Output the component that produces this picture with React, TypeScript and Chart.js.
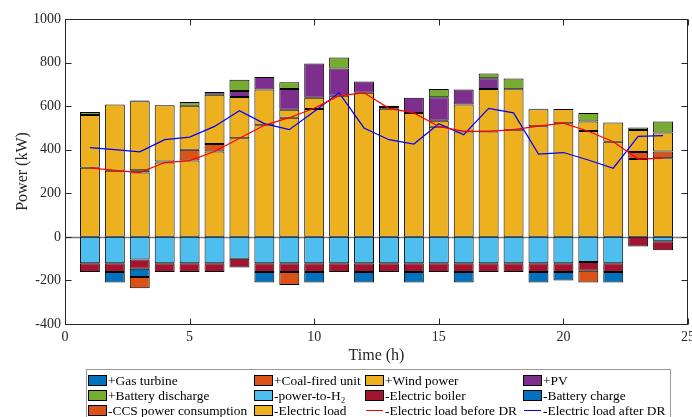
import React, { useEffect, useRef } from "react";
import { Chart, registerables } from "chart.js";

Chart.register(...registerables);

// ---------- data ----------
const hours = [1, 2, 3, 4, 5, 6, 7, 8, 9, 10, 11, 12, 13, 14, 15, 16, 17, 18, 19, 20, 21, 22, 23, 24];

const gasTurbine = [0, 0, 0, 0, 0, 0, 0, 0, 0, 0, 0, 0, 0, 0, 0, 0, 0, 0, 0, 0, 0, 0, 0, 0];
const coalFired = [0, 0, 11, 5, 50, 34, 0, 0, 0, 0, 0, 0, 0, 0, 0, 0, 0, 0, 0, 0, 0, 0, 32, 31];
const windPower = [242, 304, 316, 258, 202, 226, 189, 164, 37, 51, 0, 0, 0, 0, 28, 123, 195, 186, 78, 65, 44, 89, 101, 87];
const pv = [0, 0, 4, 0, 0, 13, 28, 58, 95, 158, 125, 52, 8, 69, 108, 69, 49, 0, 0, 0, 0, 0, 0, 0];
const batteryDischarge = [14, 0, 0, 0, 17, 0, 51, 0, 31, 0, 50, 0, 6, 0, 38, 0, 22, 49, 2, 0, 39, 0, 12, 51];
const powerToH2 = [-121, -121, -104, -121, -121, -121, -100, -121, -121, -121, -121, -121, -121, -121, -121, -121, -121, -121, -121, -121, -115, -121, 0, -20];
const electricBoiler = [-40, -40, -42, -40, -40, -40, -41, -40, -40, -40, -40, -40, -40, -40, -40, -40, -40, -40, -40, -40, -40, -40, -44, -41];
const batteryCharge = [0, -49, -38, 0, 0, 0, 0, -49, 0, -49, 0, -49, 0, -49, 0, -49, 0, 0, -49, -39, 0, -49, 0, 0];
const ccsConsumption = [0, 0, -52, 0, 0, 0, 0, 0, -60, 0, 0, 0, 0, 0, 0, 0, 0, 0, 0, 0, -55, 0, 0, 0];
const electricLoad = [317, 304, 295, 341, 350, 392, 453, 512, 547, 587, 648, 661, 588, 569, 505, 484, 484, 492, 508, 522, 486, 436, 357, 361];
const loadBeforeDR = [317, 305, 295, 341, 350, 392, 453, 512, 547, 590, 648, 661, 590, 569, 507, 484, 484, 492, 508, 522, 485, 437, 357, 361];
const loadAfterDR = [410, 400, 390, 446, 458, 507, 579, 520, 492, 575, 661, 500, 446, 426, 519, 469, 590, 569, 380, 387, 353, 315, 461, 465];

const xMin = 0;
const xMax = 25;
const xStep = 5;
const yMin = -400;
const yMax = 1000;
const yStep = 200;

// ---------- styling ----------
const FONT = "'Liberation Serif', 'Times New Roman', serif";
const AXIS = "#262626";

const categoryLabels = [String(xMin), ...hours.map(String), String(xMax)];
const pad = (arr: number[]) => [null, ...arr.map((v) => (v === 0 ? null : v)), null];

function barSet(label: string, values: number[], color: string, order: number) {
  return {
    type: "bar" as const,
    label,
    data: pad(values),
    backgroundColor: color,
    borderColor: "#000000",
    borderWidth: 1,
    borderSkipped: false,
    barPercentage: 0.8,
    categoryPercentage: 1,
    order,
  };
}

function lineSet(label: string, values: number[], color: string, stack: string) {
  return {
    type: "line" as const,
    label,
    data: [null, ...values, null],
    borderColor: color,
    backgroundColor: color,
    borderWidth: 1.2,
    pointRadius: 0,
    fill: false,
    tension: 0,
    stack,
    order: 0,
  };
}

const framePlugin = {
  id: "frame",
  beforeDatasetsDraw(chart: any) {
    const { ctx, chartArea: a } = chart;
    const y0 = Math.round(chart.scales.y.getPixelForValue(0)) + 0.5;
    ctx.save();
    ctx.strokeStyle = "#7a7a7a";
    ctx.lineWidth = 1.5;
    ctx.beginPath();
    ctx.moveTo(a.left, y0);
    ctx.lineTo(a.right, y0);
    ctx.stroke();
    ctx.restore();
  },
  afterDraw(chart: any) {
    const { ctx, chartArea: a } = chart;
    const L = Math.round(a.left) + 0.5;
    const R = Math.round(a.right) - 0.5;
    const T = Math.round(a.top) + 0.5;
    const B = Math.round(a.bottom) + 0.5;
    ctx.save();
    ctx.strokeStyle = AXIS;
    ctx.lineWidth = 1;
    ctx.strokeRect(L, T, R - L, B - T);
    const tick = 6;
    ctx.beginPath();
    for (let v = yMin; v <= yMax; v += yStep) {
      const py = Math.round(chart.scales.y.getPixelForValue(v)) + 0.5;
      ctx.moveTo(L, py);
      ctx.lineTo(L + tick, py);
      ctx.moveTo(R, py);
      ctx.lineTo(R - tick, py);
    }
    for (let v = xMin; v <= xMax; v += xStep) {
      const px = Math.round(chart.scales.xt.getPixelForValue(v)) + 0.5;
      ctx.moveTo(px, B);
      ctx.lineTo(px, B - tick);
      ctx.moveTo(px, T);
      ctx.lineTo(px, T + tick);
    }
    ctx.stroke();
    ctx.restore();
  },
};

const legendPlugin = {
  id: "boxLegend",
  afterDraw(chart: any) {
    const { ctx } = chart;
    const cols = [88, 254, 365, 523];
    const rows = [380, 395, 410];
    ctx.save();
    ctx.strokeStyle = "#9a9a9a";
    ctx.lineWidth = 1;
    ctx.strokeRect(86.5, 369.5, 584, 60);
    ctx.font = `13.4px ${FONT}`;
    ctx.textBaseline = "middle";
    chart.data.datasets.forEach((ds: any, i: number) => {
      const x = cols[i % 4];
      const yc = rows[Math.floor(i / 4)];
      if (ds.type === "line") {
        ctx.strokeStyle = ds.borderColor;
        ctx.lineWidth = 1;
        ctx.beginPath();
        ctx.moveTo(x + 1, yc + 0.5);
        ctx.lineTo(x + 18, yc + 0.5);
        ctx.stroke();
      } else {
        ctx.fillStyle = ds.backgroundColor;
        ctx.fillRect(x, yc - 5, 18, 10);
        ctx.strokeStyle = "#000";
        ctx.lineWidth = 1;
        ctx.strokeRect(x + 0.5, yc - 4.5, 18, 10);
      }
      ctx.fillStyle = "#000";
      ctx.fillText(ds.label, x + 20, yc + 1);
    });
    ctx.restore();
  },
};

export default function App() {
  const ref = useRef<HTMLCanvasElement | null>(null);

  useEffect(() => {
    document.body.style.margin = "0";
    Chart.defaults.font.family = FONT;
    const canvas = ref.current;
    if (!canvas) return;

    const datasets: any[] = [
      barSet("+Gas turbine", gasTurbine, "#0072BD", 2),
      barSet("+Coal-fired unit", coalFired, "#D95319", 3),
      barSet("+Wind power", windPower, "#EDB120", 4),
      barSet("+PV", pv, "#7E2F8E", 5),
      barSet("+Battery discharge", batteryDischarge, "#77AC30", 6),
      barSet("-power-to-H\u2082", powerToH2, "#4DBEEE", 7),
      barSet("-Electric boiler", electricBoiler, "#A2142F", 8),
      barSet("-Battery charge", batteryCharge, "#0072BD", 9),
      barSet("-CCS power consumption", ccsConsumption, "#D95319", 10),
      barSet("-Electric load", electricLoad, "#EDB120", 1),
      lineSet("-Electric load before DR", loadBeforeDR, "#FF0000", "before"),
      lineSet("-Electric load after DR", loadAfterDR, "#0000FF", "after"),
    ];

    const chart = new Chart(canvas, {
      type: "bar",
      data: { labels: categoryLabels, datasets },
      options: {
        responsive: false,
        animation: false,
        devicePixelRatio: 1,
        events: [],
        layout: { padding: { top: 19, right: 4, bottom: 0, left: 0 } },
        plugins: { legend: { display: false }, tooltip: { enabled: false } },
        scales: {
          x: {
            type: "category",
            display: false,
            stacked: true,
            offset: false,
          },
          xt: {
            type: "linear",
            position: "bottom",
            offset: false,
            min: xMin,
            max: xMax,
            grid: { display: false, drawTicks: false, offset: false },
            border: { display: false },
            ticks: {
              stepSize: xStep,
              padding: 5,
              color: AXIS,
              font: { size: 14 },
              callback: (v: any) => String(v),
            },
            title: {
              display: true,
              text: "Time (h)",
              color: AXIS,
              font: { size: 16 },
              padding: { top: 0, bottom: 52 },
            },
            afterFit: (s: any) => {
              s.height = 93;
              s.paddingLeft = 0;
              s.paddingRight = 0;
            },
          },
          y: {
            type: "linear",
            stacked: true,
            min: yMin,
            max: yMax,
            grid: { display: false, drawTicks: false },
            border: { display: false },
            ticks: {
              stepSize: yStep,
              padding: 4,
              color: AXIS,
              font: { size: 14 },
              callback: (v: any) => String(v),
            },
            title: {
              display: true,
              text: "Power (kW)",
              color: AXIS,
              font: { size: 16 },
              padding: { top: 13, bottom: 0 },
            },
            afterFit: (s: any) => {
              s.width = 65;
              s.paddingTop = 0;
              s.paddingBottom = 0;
            },
          },
        },
      } as any,
      plugins: [framePlugin, legendPlugin],
    });

    return () => chart.destroy();
  }, []);

  return (
    <div style={{ width: 692, height: 417 }}>
      <canvas ref={ref} width={692} height={417} style={{ display: "block" }} />
    </div>
  );
}
